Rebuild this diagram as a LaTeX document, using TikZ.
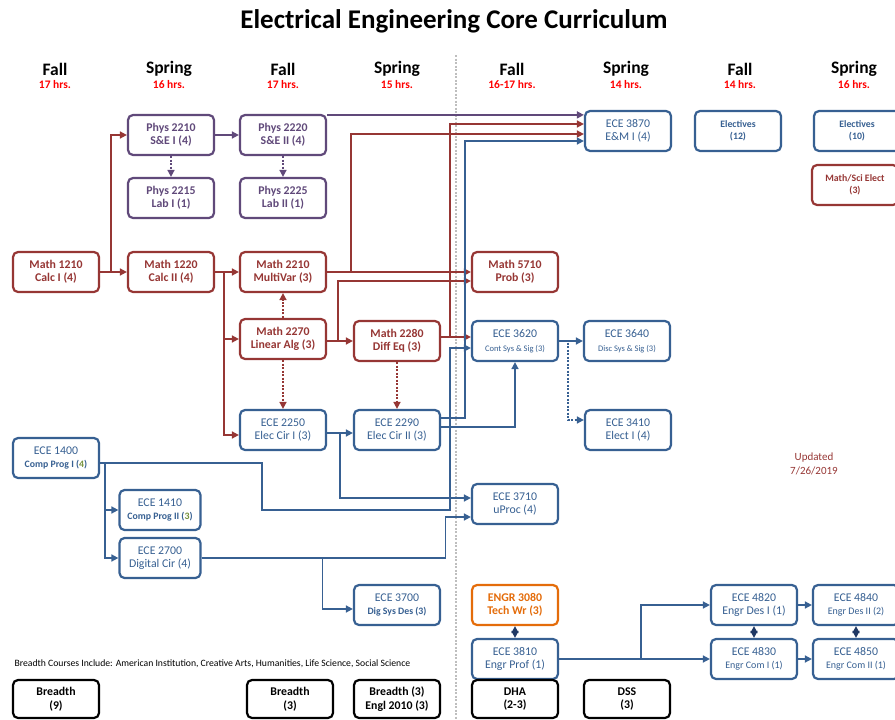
\documentclass[tikz,border=0pt]{standalone}
\usepackage{fontspec}
\setmainfont{Carlito}
\usetikzlibrary{arrows.meta,positioning,calc}

\definecolor{mathred}{RGB}{150,54,52}
\definecolor{physpurple}{RGB}{96,73,122}
\definecolor{eceblue}{RGB}{55,96,146}
\definecolor{engrorange}{RGB}{228,108,10}
\definecolor{hrsred}{RGB}{255,0,0}
\definecolor{gradedigit}{RGB}{118,146,60}
\definecolor{pairnavy}{RGB}{31,56,100}
\definecolor{splitgray}{RGB}{190,190,190}

\def\boxwid{86pt}
\def\boxhgt{40pt}
\def\boxlw{2.2pt}
\def\boxfont{\fontsize{11.8}{13.5}\selectfont}
\newcommand{\subtxt}[1]{{\fontsize{8.5}{10}\selectfont #1}}
\newcommand{\subbold}[1]{{\fontsize{9.8}{11}\selectfont\bfseries #1}}
\newcommand{\midtxt}[1]{{\fontsize{10}{11.5}\selectfont #1}}

\begin{document}
\begin{tikzpicture}[x=1pt,y=-1pt,
            course/.style={%
                line width=\boxlw, rectangle, rounded corners=5pt,%
                minimum width=\boxwid, minimum height=\boxhgt,%
                align=center, fill=white, inner sep=2pt%
            },
            mathbox/.style={course, draw=mathred, text=mathred, font=\boxfont\bfseries},
            physbox/.style={course, draw=physpurple, text=physpurple, font=\boxfont\bfseries},
            ecebox/.style={course, draw=eceblue, text=eceblue, font=\boxfont},
            engrbox/.style={course, draw=engrorange, text=engrorange, font=\boxfont\bfseries},
            gened/.style={course, draw=black, text=black, font=\boxfont\bfseries},
            elective/.style={font=\fontsize{9.8}{12}\selectfont\bfseries},
            semester/.style={font=\fontsize{17.5}{19}\selectfont\bfseries},
            hours/.style={text=hrsred, font=\fontsize{11.5}{13}\selectfont\bfseries},
            arrow/.style={line width=1.6pt,->,>={Triangle[length=7pt,width=7pt]}},
            matharrow/.style={arrow, draw=mathred},
            physarrow/.style={arrow, draw=physpurple},
            ecearrow/.style={arrow, draw=eceblue},
            pairarrow/.style={arrow, <->, draw=pairnavy},
            coreq/.style={dash pattern=on 2pt off 1.5pt}
        ]
        \useasboundingbox (0,0) rectangle (895,720);

        % Title and semesters
        \node (title) [font=\fontsize{27}{31}\selectfont\bfseries] at (454,21) {Electrical Engineering Core Curriculum};

        \node (sem_1) [semester] at (55,69) {Fall};
        \node (sem_2) [semester] at (169,69) {Spring};
        \node (sem_3) [semester] at (283,69) {Fall};
        \node (sem_4) [semester] at (397,69) {Spring};
        \node (sem_5) [semester] at (512,69) {Fall};
        \node (sem_6) [semester] at (626,69) {Spring};
        \node (sem_7) [semester] at (740,69) {Fall};
        \node (sem_8) [semester] at (854,69) {Spring};

        \node (hrs_1) [hours] at (55,85) {17 hrs.};
        \node (hrs_2) [hours] at (169,85) {16 hrs.};
        \node (hrs_3) [hours] at (283,85) {17 hrs.};
        \node (hrs_4) [hours] at (397,85) {15 hrs.};
        \node (hrs_5) [hours] at (512,85) {16-17 hrs.};
        \node (hrs_6) [hours] at (626,85) {14 hrs.};
        \node (hrs_7) [hours] at (740,85) {14 hrs.};
        \node (hrs_8) [hours] at (854,85) {16 hrs.};

        % Year split
        \coordinate (split_top) at (456,55);
        \coordinate (split_bot) at (456,720);
        \draw [splitgray, line width=2.4pt, dash pattern=on 2pt off 1.5pt] (split_top) -- (split_bot);

        % Define nodes
        \node (phys2210) [physbox] at (171,135) {Phys 2210\\S\&E I (4)};
        \node (phys2220) [physbox] at (283,135) {Phys 2220\\S\&E II (4)};
        \node (phys2215) [physbox] at (171,198) {Phys 2215\\Lab I (1)};
        \node (phys2225) [physbox] at (283,198) {Phys 2225\\Lab II (1)};

        \node (math1210) [mathbox] at (56,272) {Math 1210\\Calc I (4)};
        \node (math1220) [mathbox] at (171,272) {Math 1220\\Calc II (4)};
        \node (math2210) [mathbox] at (283,272) {Math 2210\\MultiVar (3)};
        \node (math2270) [mathbox] at (283,339) {Math 2270\\Linear Alg (3)};
        \node (math2280) [mathbox] at (397,341) {Math 2280\\Diff Eq (3)};
        \node (math5710) [mathbox] at (515,272) {Math 5710\\Prob (3)};

        \node (ece2250) [ecebox] at (283,430) {ECE 2250\\Elec Cir I (3)};
        \node (ece2290) [ecebox] at (397,430) {ECE 2290\\Elec Cir II (3)};

        \node (ece3870) [ecebox] at (628,131) {ECE 3870\\E\&M I (4)};
        \node (elect_1) [ecebox, elective] at (738,131) {Electives\\(12)};
        \node (elect_2) [ecebox, elective] at (857,131) {Electives\\(10)};
        \node (mathSci) [mathbox, elective] at (855,185) {Math/Sci Elect\\(3)};

        \node (ece3620) [ecebox] at (515,341) {ECE 3620\\\subtxt{Cont Sys \& Sig (3)}};
        \node (ece3640) [ecebox] at (627,341) {ECE 3640\\\subtxt{Disc Sys \& Sig (3)}};
        \node (ece3410) [ecebox] at (628,430) {ECE 3410\\Elect I (4)};

        \node (ece1400) [ecebox] at (56,458) {ECE 1400\\\subbold{Comp Prog I (\textcolor{gradedigit}{4})}};
        \node (ece1410) [ecebox, minimum width=81pt] at (160,510) {ECE 1410\\\subbold{Comp Prog II (\textcolor{gradedigit}{3})}};
        \node (ece2700) [ecebox, minimum width=81pt] at (160,558) {ECE 2700\\Digital Cir (4)};
        \node (ece3710) [ecebox] at (515,504) {ECE 3710\\uProc (4)};
        \node (ece3700) [ecebox] at (397,605) {ECE 3700\\\subbold{Dig Sys Des (3)}};

        \node (engr3080) [engrbox] at (515,605) {ENGR 3080\\Tech Wr (3)};
        \node (ece3810) [ecebox] at (515,659) {ECE 3810\\Engr Prof (1)};
        \node (ece4820) [ecebox] at (754,605) {ECE 4820\\Engr Des I (1)};
        \node (ece4830) [ecebox] at (754,659) {ECE 4830\\\midtxt{Engr Com I (1)}};
        \node (ece4840) [ecebox] at (856,605) {ECE 4840\\\midtxt{Engr Des II (2)}};
        \node (ece4850) [ecebox] at (856,659) {ECE 4850\\\midtxt{Engr Com II (1)}};

        \node (breadthNote) [anchor=west, font=\fontsize{9.7}{11}\selectfont] at (11,664) {%
            Breadth Courses Include: American Institution, Creative Arts, Humanities, Life Science, Social Science
        };
        \node (breadth_1) [gened, minimum height=38pt] at (56,699) {Breadth\\(9)};
        \node (breadth_2) [gened, minimum height=38pt] at (290,699) {Breadth\\(3)};
        \node (breadth_3) [gened, minimum height=38pt] at (397,699) {Breadth (3)\\Engl 2010 (3)};
        \node (dha) [gened, minimum height=38pt] at (515,699) {DHA\\(2-3)};
        \node (dss) [gened, minimum height=38pt] at (627,699) {DSS\\(3)};

        \node (updated) [text=mathred, align=center, font=\fontsize{11}{14}\selectfont] at (814,464) {%
            Updated\\7/26/2019
        };

        % Math prerequisites
        \draw [matharrow] (math1210) -- (math1220);
        \draw [matharrow] (math1210.east) -- ++(11,0) |- (phys2210.west);
        \draw [matharrow] (math1220) -- (math2210);
        \draw [matharrow] (math1220.east) -- ++(9,0) |- (math2270.west);
        \draw [matharrow] (math1220.east) -- ++(9,0) |- ([yshift=-5pt]ece2250.west);
        \draw [matharrow, coreq] (math2270) -- (math2210);
        \draw [matharrow, coreq] (math2270) -- (ece2250);
        \draw [matharrow, coreq] (math2280) -- (ece2290);
        \draw [matharrow] (math2210) -- (math5710);
        \draw [matharrow] (math2210.east) -- ++(24,0) |- ([yshift=-3pt]ece3870.west);
        \draw [matharrow] ([yshift=-2pt]math2270.east) -- ([yshift=-2pt]math2270.east -| math2280.west);
        \draw [matharrow] ([yshift=-2pt]math2270.east) -- ++(11,0) |- ([yshift=-9pt]math5710.west);
        \draw [matharrow] ([yshift=4pt]math2280.east) -- ([yshift=4pt]ece3620.west);
        \draw [matharrow] ([yshift=4pt]math2280.east) -- ++(9,0) |- ([yshift=7pt]ece3870.west);

        % Physics
        \draw [physarrow] (phys2210) -- (phys2220);
        \draw [physarrow, coreq] (phys2210) -- (phys2215);
        \draw [physarrow, coreq] (phys2220) -- (phys2225);
        \draw [physarrow] ([yshift=-1pt]phys2220.north east) -- ([yshift=-1pt]phys2220.north east -| ece3870.west);

        % ECE prerequisites
        \draw [ecearrow] ([yshift=-3pt]ece2250.east) -- ([yshift=-3pt]ece2290.west);
        \draw [ecearrow] ([yshift=-3pt]ece2250.east) -- ++(13,0) |- ([yshift=6pt]ece3710.west);
        \draw [ecearrow] ([yshift=12pt]ece2290.east) -- ++(24,0) |- ([yshift=-10pt]ece3870.west);
        \draw [ecearrow] ([yshift=3pt]ece2290.east) -| (ece3620.south);
        \draw [ecearrow] ([yshift=-5pt]ece1400.east) -- ++(162,0) -- ++(0,47) -- ++(188,0) |- ([yshift=-7pt]ece3620.west);
        \draw [ecearrow] ([yshift=-5pt]ece1400.east) -- ++(5,0) |- (ece1410.west);
        \draw [ecearrow] ([yshift=-5pt]ece1400.east) -- ++(5,0) |- (ece2700.west);
        \draw [ecearrow] (ece2700.east) -- ++(244,0) |- ([yshift=-13pt]ece3710.west);
        \draw [ecearrow] (ece2700.east) -- ++(121,0) |- ([yshift=-4pt]ece3700.west);
        \draw [ecearrow] (ece3620) -- (ece3640);
        \draw [ecearrow, coreq] (ece3620.east) -- ++(9,0) |- ([yshift=10pt]ece3410.west);

        % Senior sequence
        \draw [pairarrow] (engr3080) -- (ece3810);
        \draw [ecearrow] (ece3810) -- (ece4830);
        \draw [ecearrow] (ece3810.east) -- ++(82,0) |- (ece4820.west);
        \draw [ecearrow] (ece4820) -- (ece4840);
        \draw [ecearrow] (ece4830) -- (ece4850);
        \draw [pairarrow] (ece4820) -- (ece4830);
        \draw [pairarrow] (ece4840) -- (ece4850);

        \end{tikzpicture}
\end{document}
